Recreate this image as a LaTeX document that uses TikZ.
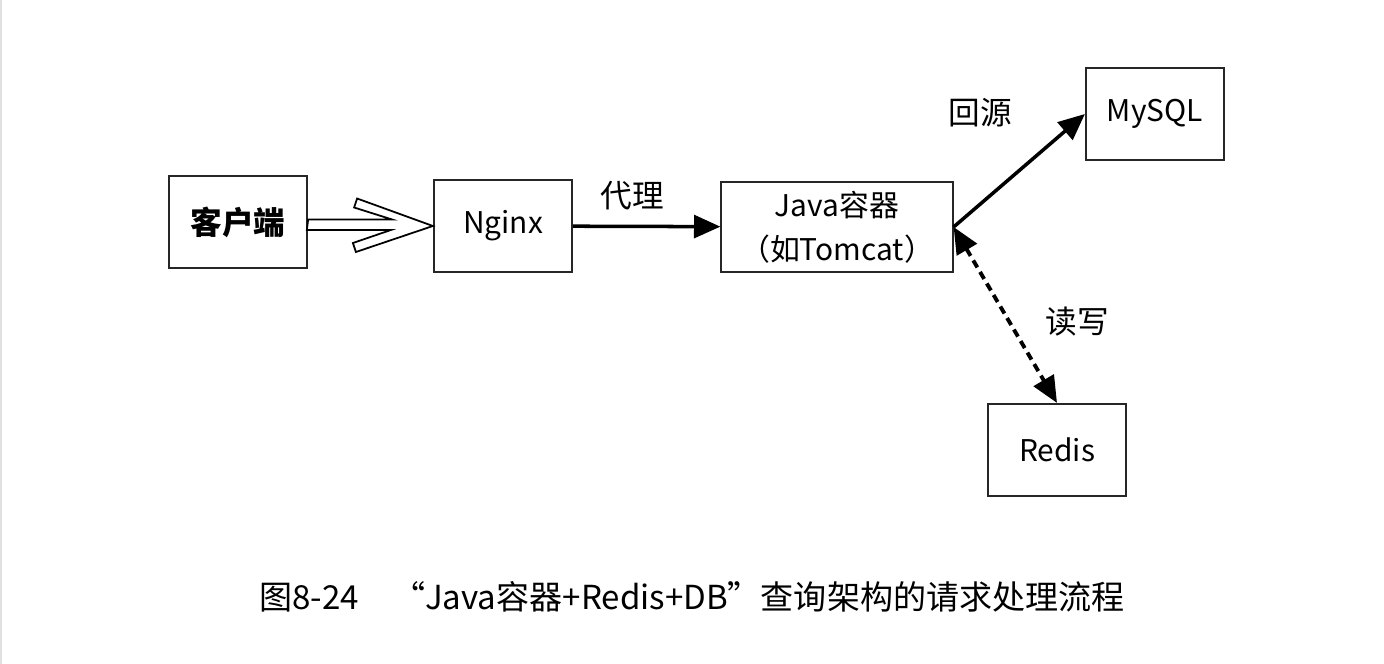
\documentclass[tikz,border=0pt]{standalone}
\usepackage{fontspec}
\setmainfont{Noto Sans CJK SC}
\usetikzlibrary{arrows.meta}

\begin{document}
\begin{tikzpicture}[x=0.01cm, y=-0.01cm, box/.style={draw=black!85, line width=0.6pt, minimum width=1.38cm, minimum height=0.92cm, inner sep=0pt, font=\fontsize{8.5}{12.5}\selectfont}, lbl/.style={font=\fontsize{9}{11}\selectfont}, >={Triangle[length=7.5pt, width=6.5pt]}]
\useasboundingbox (0,0) rectangle (1384,664);
\draw[black!12, line width=0.5pt] (1,0) -- (1,664);
\node[box, font=\bfseries\fontsize{9}{11}\selectfont] (client) at (238,222) {客户端};
\node[box] (nginx) at (503,226) {Nginx};
\node[box, minimum width=2.31cm, minimum height=0.9cm, align=center] (java) at (837,227) {Java容器\\（如Tomcat）};
\node[box] (mysql) at (1155,114) {MySQL};
\node[box] (redis) at (1057,450) {Redis};
% hollow arrow client -> nginx
\draw[line width=0.5pt, fill=white] (client.east) ++(0,-2.5) -- ++(84,0) -- ++(-38,-12) -- ++(3,-9) -- (nginx.west) -- ++(-77,26) -- ++(-3,-9) -- ++(38,-13) -- ++(-84,0) -- cycle;
\draw[->, line width=1pt] (nginx) -- (java);
\draw[->, line width=1pt] (java.east) -- (mysql.west);
\draw[<->, line width=1.1pt, dash pattern=on 2.3pt off 1.5pt] (java.east) -- (redis.north);
\node[lbl] (proxy) at (632,196) {代理};
\node[lbl] (origin) at (980,113) {回源};
\node[lbl] (rw) at (1077,322) {读写};
\node[font=\fontsize{9.4}{11}\selectfont] (caption) at (692,597) {图8-24\quad“Java容器+Redis+DB”查询架构的请求处理流程};
\end{tikzpicture}
\end{document}
